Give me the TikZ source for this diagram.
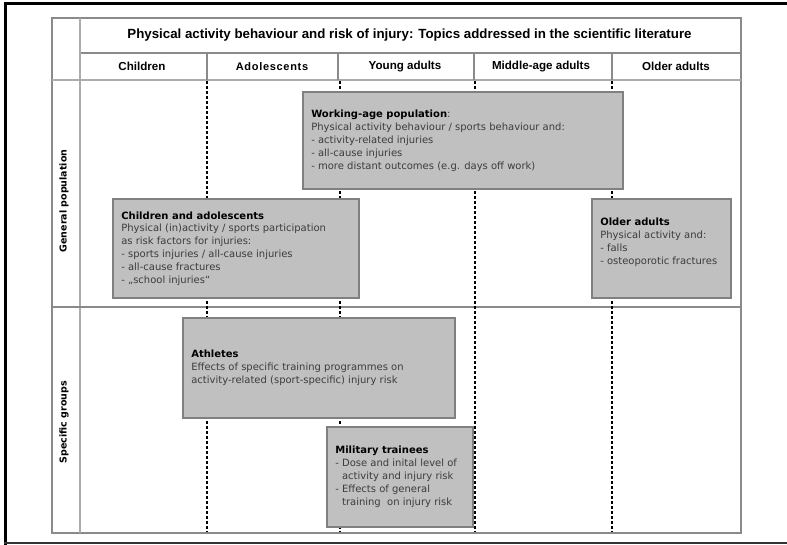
\documentclass[tikz,border=0pt]{standalone}
\usepackage{fontspec}
\setmainfont{Liberation Sans}
\newfontfamily\boxfont{DejaVu Sans}
\usetikzlibrary{positioning}
\definecolor{boxfill}{HTML}{C0C0C0}
\definecolor{boxedge}{HTML}{808080}
\definecolor{gridline}{HTML}{8A8A8A}
\definecolor{lightgrid}{HTML}{ABABAB}
\definecolor{bodytext}{HTML}{3C3C3C}
\tikzset{
  frameline/.style={line width=3pt, black},
  tableline/.style={line width=1.4pt, gridline},
  thinline/.style={line width=1.2pt, lightgrid},
  agesep/.style={line width=1.4pt, black, dash pattern=on 3pt off 2pt},
  topicbox/.style={draw=boxedge, fill=boxfill, line width=1.8pt, inner sep=0pt},
  topictext/.style={anchor=west, align=left, inner sep=0pt, text=bodytext,
    font=\boxfont\fontsize{10}{12.9}\selectfont},
  colhead/.style={font=\bfseries\fontsize{11.6}{13}\selectfont, inner sep=0pt},
  sidehead/.style={font=\boxfont\bfseries\fontsize{9.5}{11}\selectfont, inner sep=0pt, rotate=90},
}
\newcommand{\hd}[1]{{\color{black}\bfseries #1}}
\newcommand{\ls}{\kern0.7pt}
\begin{document}
\begin{tikzpicture}[x=1pt, y=-1pt]
\useasboundingbox (0,0) rectangle (787,545);
% page frame
\draw[frameline] (5,545) -- (5,4) -- (787,4);
\draw[line width=2pt, black!80] (4,543) -- (787,543);
% table grid
\draw[tableline] (52,18) rectangle (741,533);
\draw[tableline] (80,53) -- (741,53);
\draw[thinline] (80,18) -- (80,533);
\draw[thinline] (52,80) -- (741,80);
\draw[tableline] (52,307) -- (741,307);
\foreach \x in {207,338,474,612} \draw[tableline] (\x,53) -- (\x,80);
% title and age groups
\node[font=\bfseries\fontsize{13.3}{15}\selectfont, inner sep=0pt] (title) at (409.5,35.5)
  {Physical activity behaviour and risk of injury: Topics addressed in the scientific literature};
\node[colhead] (children) at (142,66.5) {Children};
\node[colhead, font=\bfseries\fontsize{11}{13}\selectfont] (adolescents) at (272,66.5)
  {A\ls d\ls o\ls l\ls e\ls s\ls c\ls e\ls n\ls t\ls s};
\node[colhead] (young) at (405,66.5) {Young adults};
\node[colhead] (middle) at (541,66.5) {Middle-age adults};
\node[colhead] (older) at (676,66.5) {Older adults};
\node[sidehead] (general) at (64,201) {General population};
\node[sidehead] (specific) at (64,422) {Specific groups};
% age group separators
\foreach \x in {207,340,475,612} \draw[agesep] (\x,81) -- (\x,532);
% topic boxes
\node[topicbox, minimum width=320pt, minimum height=97pt] (working) at (463,140.5) {};
\node[topictext] (workingtxt) at ([xshift=9pt]working.west)
  {\hd{Working-age population}:\\Physical activity behaviour / sports behaviour and:\\- activity-related injuries\\- all-cause injuries\\- more distant outcomes (e.g. days off work)};
\node[topicbox, minimum width=246pt, minimum height=99pt] (childadol) at (236,248.5) {};
\node[topictext] (childadoltxt) at ([xshift=9pt]childadol.west)
  {\hd{Children and adolescents}\\Physical (in)activity / sports participation\\as risk factors for injuries:\\- sports injuries / all-cause injuries\\- all-cause fractures\\- „school injuries“};
\node[topicbox, minimum width=139pt, minimum height=99pt] (olderbox) at (661.5,248.5) {};
\node[topictext] (oldertxt) at ([xshift=9pt,yshift=6pt]olderbox.west)
  {\hd{Older adults}\\Physical activity and:\\- falls\\- osteoporotic fractures};
\node[topicbox, minimum width=272pt, minimum height=100pt] (athletes) at (319,368) {};
\node[topictext] (athletestxt) at ([xshift=9pt]athletes.west)
  {\hd{Athletes}\\Effects of specific training programmes on\\activity-related (sport-specific) injury risk};
\node[topicbox, minimum width=146pt, minimum height=100pt] (military) at (400,477) {};
\node[topictext] (militarytxt) at ([xshift=9pt]military.west)
  {\hd{Military trainees}\\- Dose and inital level of\\\hphantom{- }activity and injury risk\\- Effects of general\\\hphantom{- }training\ \ on injury risk};
\end{tikzpicture}
\end{document}
